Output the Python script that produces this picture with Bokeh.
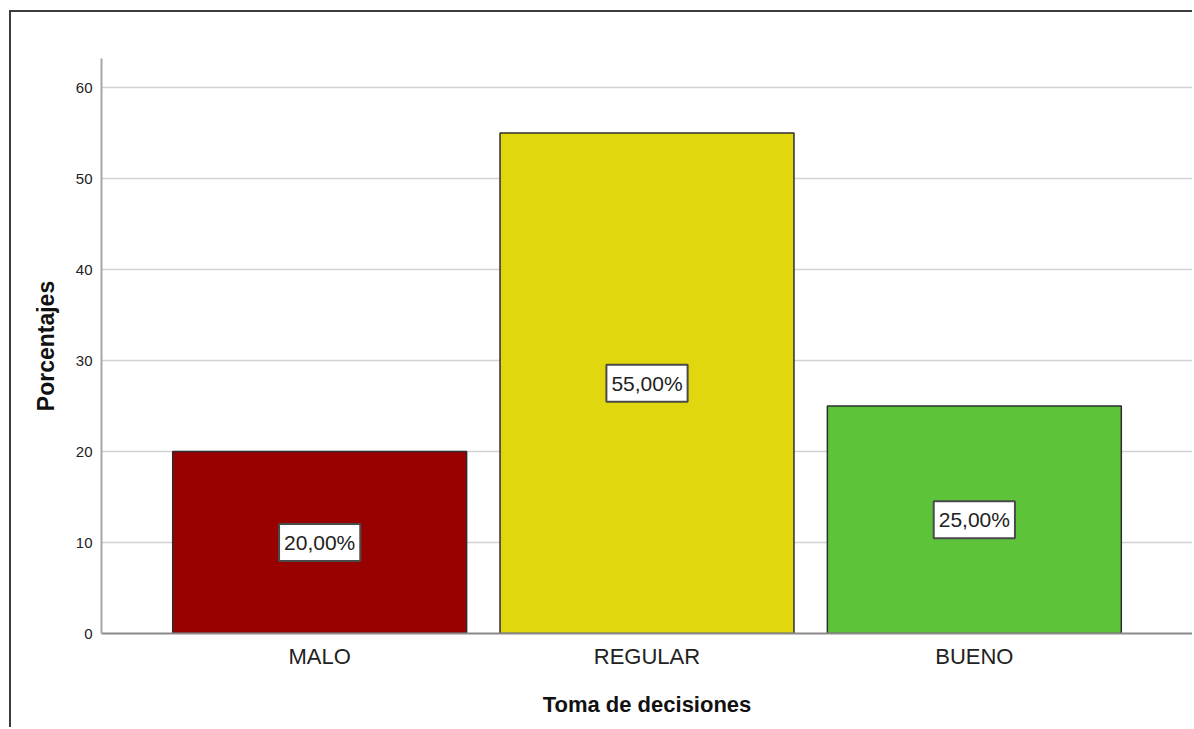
from bokeh.plotting import figure
from bokeh.models import ColumnDataSource, Label, FactorRange, Range1d, FixedTicker
from bokeh.embed import file_html
from bokeh.resources import INLINE

# Distribution of "Toma de decisiones" levels (percentages)
categories = ["MALO", "REGULAR", "BUENO"]
percentages = [20.0, 55.0, 25.0]
bar_colors = ["#990000", "#E1D70E", "#5DC43A"]
y_ticks = [0, 10, 20, 30, 40, 50, 60]

labels = [f"{v:.2f}".replace(".", ",") + "%" for v in percentages]
source = ColumnDataSource(dict(cat=categories, pct=percentages, color=bar_colors))

p = figure(
    x_range=FactorRange(factors=categories, range_padding=0.111),
    y_range=Range1d(0, 63.2),
    width=1183, height=717,
    output_backend="svg", toolbar_location=None,
    min_border_left=90, min_border_right=2,
    min_border_top=46, min_border_bottom=96,
)
p.margin = (10, 0, 0, 9)
p.styles = {"border-left": "2px solid #3c3c3c", "border-top": "2px solid #3c3c3c"}
p.outline_line_color = None
p.background_fill_color = "white"
p.border_fill_color = "white"

p.vbar(x="cat", top="pct", width=0.898, source=source,
       fill_color="color", line_color="#2e2e2e", line_width=1.5)

# Value boxes at mid-height of each bar
for cat, val, txt in zip(categories, percentages, labels):
    p.add_layout(Label(
        x=categories.index(cat) + 0.5, y=val / 2, text=txt,
        text_align="center", text_baseline="middle",
        text_font="Liberation Sans", text_font_size="21px", text_color="#222222",
        background_fill_color="white", border_line_color="#4a4a4a",
        border_line_width=2, padding=(5, 7),
    ))

# Grid
p.xgrid.grid_line_color = None
p.ygrid.grid_line_color = "#d2d2d2"
p.ygrid.grid_line_width = 1.5
p.yaxis.ticker = FixedTicker(ticks=y_ticks)

# Axes
for ax in (p.xaxis, p.yaxis):
    ax.major_tick_line_color = None
    ax.minor_tick_line_color = None
    ax.axis_line_width = 2
    ax.major_label_text_font = "Liberation Sans"
    ax.major_label_text_color = "#222222"
    ax.axis_label_text_font = "Liberation Sans"
    ax.axis_label_text_font_style = "bold"
    ax.axis_label_text_color = "#111111"

p.yaxis.axis_line_color = "#a6a6a6"
p.xaxis.axis_line_color = "#8a8a8a"
p.yaxis.major_label_text_font_size = "15px"
p.xaxis.major_label_text_font_size = "22px"
p.yaxis.axis_label_text_font_size = "23px"
p.xaxis.axis_label_text_font_size = "22px"
p.yaxis.major_label_standoff = 3
p.xaxis.major_label_standoff = 4
p.yaxis.axis_label = "Porcentajes"
p.xaxis.axis_label = "Toma de decisiones"
p.yaxis.axis_label_standoff = 14
p.xaxis.axis_label_standoff = 20

open("out.html", "w").write(file_html(p, INLINE))
